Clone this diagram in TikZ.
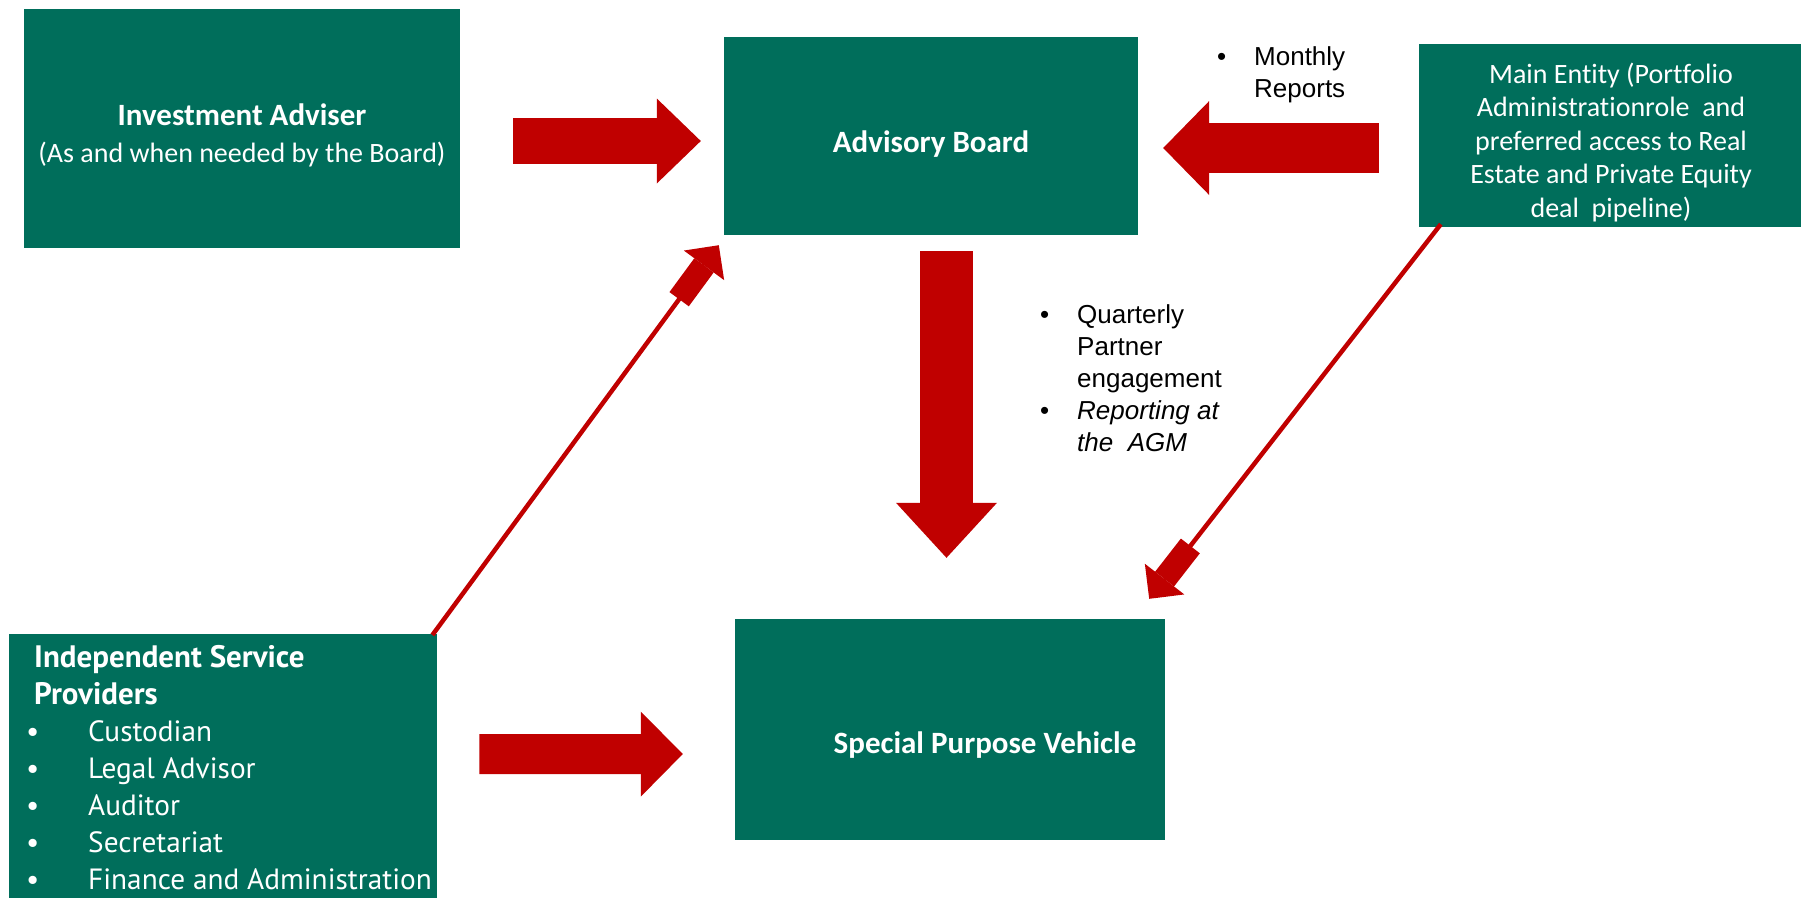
\documentclass[tikz,border=0pt]{standalone}
\usepackage{fontspec}
\setmainfont{Carlito}[Ligatures={TeX,NoCommon}]
\newfontfamily\notefont{Liberation Sans}
\newfontfamily\listfont{PT Sans}
\usepackage{xcolor}
\usetikzlibrary{arrows.meta}

\definecolor{boxgreen}{RGB}{0,110,91}
\definecolor{flowred}{RGB}{192,0,0}

\tikzset{
  box/.style={fill=boxgreen, inner sep=0pt},
  boxtext/.style={text=white, inner sep=0pt, align=center},
  note/.style={inner sep=0pt, font=\notefont\fontsize{26}{32}\selectfont},
  bigflow/.style n args={3}{draw=flowred, line width=#1,
    -{Triangle[length=#2, width=#3, line width=0pt]}},
  thinflow/.style={draw=flowred, line width=4.5pt,
    -{Rectangle[length=42pt, width=24pt, sep=0pt, line width=0pt]
      Triangle[length=25pt, width=50pt, line width=0pt]}},
}

\begin{document}
\begin{tikzpicture}[x=1pt, y=-1pt]
  \useasboundingbox (0,0) rectangle (1803,898);

  % ---- boxes ----
  \node[box, minimum width=436, minimum height=239] (adviser) at (242,128.5) {};
  \node[box, minimum width=414, minimum height=198] (board) at (931,136) {};
  \node[box, minimum width=382, minimum height=183] (entity) at (1610,135.5) {};
  \node[box, minimum width=430, minimum height=221] (spv) at (950,729.5) {};
  \node[box, minimum width=428, minimum height=264, anchor=north west] (providers) at (9,634) {};

  % ---- box texts ----
  \node[boxtext, font=\fontsize{28}{37}\selectfont] (advisertext) at ([shift={(0,7)}]adviser.center)
    {{\bfseries\fontsize{31}{37}\selectfont Investment Adviser}\\(As and when needed by the Board)};
  \node[boxtext, font=\bfseries\fontsize{31}{37}\selectfont] (boardtext) at ([shift={(0,8)}]board.center)
    {Advisory Board};
  \node[boxtext, font=\fontsize{28}{33.5}\selectfont] (entitytext) at ([shift={(1,7)}]entity.center)
    {Main Entity (Portfolio\\Administrationrole\ \ and\\preferred access to Real\\Estate and Private Equity\\deal\ \ pipeline)};
  \node[boxtext, anchor=base, font=\bfseries\fontsize{31}{37}\selectfont] (spvtext) at (985,753)
    {Special Purpose Vehicle};
  \node[boxtext, anchor=base west, font=\listfont\fontsize{29.3}{37}\selectfont] (providerlist) at (26,667) {%
    \begin{tabular}[t]{@{}p{62pt}@{}l@{}}
      \multicolumn{2}{@{}l@{}}{\hspace*{8pt}\bfseries\fontsize{31}{36}\selectfont Independent Service}\\
      \multicolumn{2}{@{}l@{}}{\hspace*{8pt}\bfseries\fontsize{31}{36}\selectfont Providers}\\
      \textbullet & Custodian\\
      \textbullet & Legal Advisor\\
      \textbullet & Auditor\\
      \textbullet & Secretariat\\
      \textbullet & Finance and Administration
    \end{tabular}};

  % ---- notes beside the flows ----
  \node[note, anchor=base west] (monthly) at (1217,65) {%
    \begin{tabular}[t]{@{}p{37pt}@{}l@{}}
      \textbullet & Monthly\\
                  & Reports
    \end{tabular}};
  \node[note, anchor=base west] (quarterly) at (1040,323) {%
    \begin{tabular}[t]{@{}p{37pt}@{}l@{}}
      \textbullet & Quarterly\\
                  & Partner\\
                  & engagement\\
      \textbullet & \itshape Reporting at\\
                  & \itshape the\ \ AGM
    \end{tabular}};

  % ---- block arrows ----
  \draw[bigflow={46pt}{44pt}{85pt}] ([shift={(53,12.5)}]adviser.east) -- ([shift={(-23,5)}]board.west);
  \draw[bigflow={50pt}{46pt}{94pt}] ([shift={(-40,12.5)}]entity.west) -- ([shift={(25,12)}]board.east);
  \draw[bigflow={53pt}{55pt}{101pt}] ([shift={(15.5,16)}]board.south) -- ([shift={(-3.5,-61)}]spv.north);
  \draw[bigflow={40pt}{42pt}{85pt}] ([shift={(42,-12)}]providers.east) -- ([shift={(-52,24.5)}]spv.west);

  % ---- thin arrows ----
  \draw[thinflow] ([shift={(-5,1)}]providers.north east) -- ([shift={(-5,10)}]board.south west);
  \draw[thinflow] ([shift={(22,-3)}]entity.south west) -- ([shift={(-16,-20)}]spv.north east);
\end{tikzpicture}
\end{document}
